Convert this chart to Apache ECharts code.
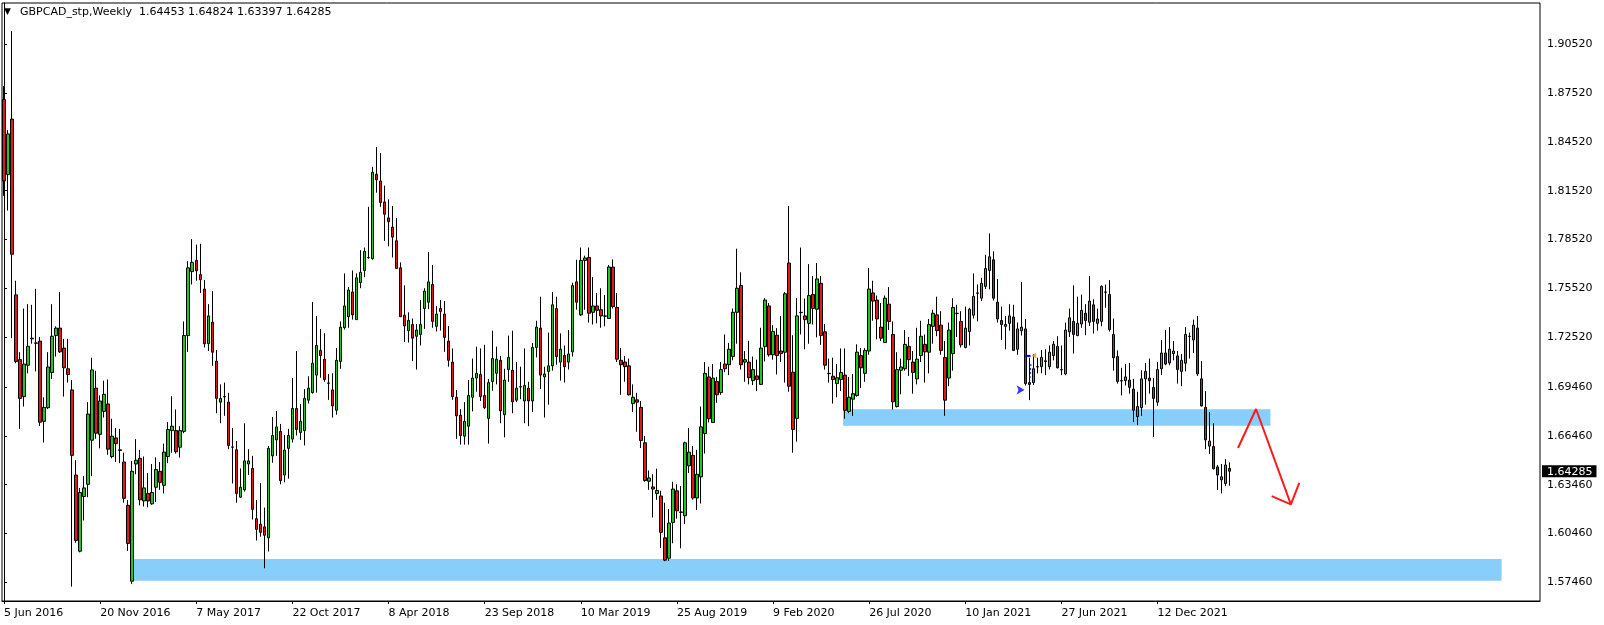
<!DOCTYPE html>
<html><head><meta charset="utf-8">
<script src="https://cdn.jsdelivr.net/npm/echarts@6/dist/echarts.min.js"></script>
<style>html,body{margin:0;padding:0;background:#fff}#c{width:1604px;height:625px}</style>
</head><body><div id="c"></div>
<script>
const symbolName = 'GBPCAD_stp,Weekly';
const startDate = '2016-06-05';
const totalSlots = 384;
const opens = [1.8712,1.8251,1.8592,1.7512,1.7114,1.6887,1.7080,1.7242,1.7217,1.7228,1.6735,1.6819,1.7035,1.7262,1.7308,1.7185,1.7058,1.6928,1.6405,1.5937,1.6273,1.6348,1.6619,1.6939,1.6655,1.6796,1.6842,1.6519,1.6633,1.6560,1.6485,1.6219,1.5753,1.6473,1.6508,1.6246,1.6292,1.6228,1.6330,1.6428,1.6342,1.6519,1.6678,1.6678,1.6576,1.6673,1.7262,1.7655,1.7724,1.7637,1.7548,1.7212,1.7344,1.7105,1.6853,1.6887,1.6853,1.6578,1.6560,1.6269,1.6314,1.6473,1.6446,1.6137,1.6103,1.6087,1.6019,1.6523,1.6621,1.6673,1.6405,1.6569,1.6626,1.6814,1.6667,1.6678,1.6865,1.6912,1.7019,1.7171,1.7117,1.6971,1.6928,1.6803,1.7103,1.7310,1.7378,1.7530,1.7360,1.7587,1.7662,1.7742,1.7735,1.8253,1.8212,1.8083,1.7985,1.7928,1.7844,1.7678,1.7387,1.7292,1.7330,1.7258,1.7269,1.7428,1.7467,1.7576,1.7319,1.7428,1.7394,1.7228,1.7099,1.6883,1.6773,1.6644,1.6705,1.6883,1.7001,1.7023,1.6894,1.6753,1.6980,1.7030,1.7110,1.6776,1.7053,1.7049,1.6865,1.6946,1.6860,1.6939,1.6860,1.7189,1.7308,1.7008,1.7042,1.7076,1.7428,1.7099,1.7139,1.7099,1.7162,1.7592,1.7389,1.7724,1.7742,1.7405,1.7444,1.7421,1.7383,1.7367,1.7683,1.7435,1.7110,1.7099,1.7076,1.6844,1.6867,1.6821,1.6603,1.6367,1.6332,1.6292,1.6276,1.6019,1.5894,1.6114,1.6308,1.6178,1.6155,1.6462,1.6526,1.6264,1.6394,1.6660,1.7008,1.6728,1.6980,1.6912,1.7087,1.7083,1.7133,1.7405,1.7569,1.7099,1.7099,1.6985,1.7014,1.6962,1.7194,1.7444,1.7144,1.7264,1.7167,1.7160,1.7708,1.7037,1.6753,1.7405,1.7383,1.7337,1.7514,1.7424,1.7583,1.7285,1.7030,1.7012,1.6967,1.6992,1.7019,1.6796,1.6871,1.6894,1.7139,1.7030,1.7167,1.7524,1.7480,1.7314,1.7219,1.7455,1.7269,1.6826,1.7049,1.7058,1.7196,1.7099,1.6996,1.7139,1.7208,1.7160,1.7319,1.7389,1.7326,1.7128,1.7001,1.7151,1.7399,1.7349,1.7189,1.7287,1.7387,1.7524,1.7492,1.7564,1.7662,1.7728,1.7467,1.7355,1.7319,1.7337,1.7376,1.7178,1.7292,1.7303,1.6973,1.6973,1.7071,1.7071,1.7103,1.7071,1.7139,1.7196,1.7053,1.7026,1.7285,1.7349,1.7262,1.7333,1.7399,1.7344,1.7451,1.7337,1.7349,1.7530,1.7514,1.7269,1.7133,1.6985,1.6985,1.6989,1.6933,1.6764,1.6819,1.6996,1.7001,1.6944,1.6853,1.7058,1.7155,1.7094,1.7151,1.7137,1.7042,1.7092,1.7258,1.7235,1.7308,1.6996,1.6821,1.6583,1.6580,1.6455,1.6376,1.6353,1.64453];
const highs = [1.8796,1.8524,1.9133,1.7599,1.7160,1.7428,1.7455,1.7451,1.7549,1.7253,1.6883,1.7160,1.7455,1.7319,1.7530,1.7242,1.7242,1.6989,1.6496,1.6326,1.6398,1.6853,1.7126,1.7046,1.6894,1.6985,1.6992,1.6751,1.6694,1.6689,1.6542,1.6251,1.6492,1.6626,1.6560,1.6519,1.6417,1.6473,1.6514,1.6485,1.6598,1.6730,1.6889,1.6808,1.6705,1.7349,1.7719,1.7855,1.7821,1.7826,1.7603,1.7455,1.7535,1.7173,1.6962,1.6973,1.6910,1.6694,1.6614,1.6446,1.6723,1.6564,1.6523,1.6251,1.6355,1.6205,1.6583,1.6762,1.6798,1.6719,1.6651,1.6689,1.7001,1.7167,1.6842,1.6933,1.7012,1.7469,1.7383,1.7303,1.7276,1.7026,1.7030,1.7185,1.7349,1.7644,1.7560,1.7662,1.7644,1.7787,1.7803,1.8053,1.8299,1.8421,1.8383,1.8183,1.8099,1.8058,1.7985,1.7712,1.7571,1.7405,1.7367,1.7333,1.7480,1.7553,1.7776,1.7696,1.7444,1.7480,1.7474,1.7321,1.7183,1.6928,1.6810,1.6853,1.6989,1.7121,1.7194,1.7183,1.7205,1.6996,1.7292,1.7194,1.7137,1.7058,1.7262,1.7292,1.7099,1.7071,1.7183,1.6978,1.7217,1.7353,1.7501,1.7071,1.7280,1.7530,1.7501,1.7276,1.7201,1.7296,1.7587,1.7728,1.7803,1.7753,1.7803,1.7621,1.7524,1.7553,1.7512,1.7696,1.7730,1.7524,1.7185,1.7137,1.7121,1.6962,1.6910,1.6860,1.6644,1.6433,1.6410,1.6444,1.6308,1.6235,1.6196,1.6364,1.6348,1.6337,1.6610,1.6694,1.6583,1.6560,1.6826,1.7099,1.7071,1.7087,1.7008,1.7099,1.7269,1.7217,1.7428,1.7796,1.7651,1.7167,1.7230,1.7133,1.7114,1.7310,1.7492,1.7462,1.7326,1.7308,1.7383,1.7530,1.8058,1.7264,1.7492,1.7803,1.7490,1.7701,1.7628,1.7708,1.7628,1.7333,1.7121,1.7126,1.7087,1.7183,1.7183,1.7008,1.7026,1.7208,1.7185,1.7185,1.7678,1.7599,1.7508,1.7462,1.7508,1.7560,1.7349,1.7160,1.7121,1.7296,1.7253,1.7167,1.7310,1.7353,1.7269,1.7364,1.7421,1.7501,1.7412,1.7228,1.7342,1.7492,1.7451,1.7412,1.7440,1.7433,1.7644,1.7576,1.7617,1.7758,1.7890,1.7780,1.7610,1.7440,1.7383,1.7455,1.7451,1.7342,1.7592,1.7364,1.7126,1.7149,1.7126,1.7173,1.7178,1.7201,1.7228,1.7258,1.7201,1.7342,1.7428,1.7571,1.7501,1.7514,1.7455,1.7628,1.7485,1.7428,1.7571,1.7576,1.7603,1.7367,1.7171,1.7064,1.7087,1.7094,1.6996,1.6917,1.7049,1.7094,1.7121,1.7001,1.7099,1.7235,1.7296,1.7314,1.7228,1.7167,1.7149,1.7314,1.7280,1.7360,1.7383,1.7105,1.6921,1.6792,1.6723,1.6467,1.6473,1.6503,1.64824];
const lows = [1.8121,1.8030,1.7246,1.7092,1.6689,1.6826,1.7030,1.7212,1.7042,1.6707,1.6605,1.6810,1.6996,1.7133,1.7155,1.6887,1.6973,1.5719,1.5989,1.5930,1.6126,1.6269,1.6398,1.6628,1.6569,1.6758,1.6530,1.6508,1.6485,1.6478,1.6235,1.5939,1.5735,1.6410,1.6219,1.6212,1.6207,1.6223,1.6239,1.6314,1.6292,1.6478,1.6542,1.6537,1.6512,1.6662,1.7162,1.7576,1.7599,1.7524,1.7189,1.7167,1.7076,1.6785,1.6723,1.6769,1.6564,1.6353,1.6235,1.6264,1.6303,1.6405,1.6132,1.6003,1.6026,1.5832,1.5935,1.6480,1.6523,1.6348,1.6360,1.6383,1.6605,1.6648,1.6621,1.6587,1.6844,1.6905,1.6912,1.7003,1.6978,1.6867,1.6758,1.6776,1.7058,1.7299,1.7310,1.7360,1.7360,1.7553,1.7621,1.7735,1.7728,1.8140,1.8053,1.7844,1.7810,1.7742,1.7671,1.7376,1.7223,1.7219,1.7105,1.7053,1.7201,1.7303,1.7424,1.7310,1.7287,1.7292,1.7162,1.7071,1.6867,1.6628,1.6592,1.6592,1.6592,1.6796,1.6917,1.6860,1.6810,1.6598,1.6923,1.6962,1.6723,1.6637,1.6978,1.6785,1.6853,1.6871,1.6723,1.6705,1.6792,1.7128,1.6933,1.6758,1.6837,1.7046,1.7083,1.6985,1.6973,1.7053,1.7133,1.7421,1.7383,1.7421,1.7342,1.7330,1.7337,1.7310,1.7319,1.7364,1.7428,1.7099,1.6898,1.6978,1.6894,1.6792,1.6671,1.6571,1.6364,1.6314,1.6144,1.6253,1.5957,1.5876,1.5878,1.5986,1.6137,1.5955,1.6105,1.6417,1.6253,1.6190,1.6230,1.6537,1.6728,1.6728,1.6849,1.6898,1.7037,1.7019,1.7110,1.7212,1.7053,1.6978,1.6962,1.6958,1.6921,1.6958,1.7103,1.7133,1.7114,1.7023,1.7099,1.6973,1.6917,1.6542,1.6610,1.7269,1.7178,1.7212,1.7330,1.7251,1.7205,1.7053,1.6973,1.6844,1.6883,1.6921,1.6751,1.6785,1.6769,1.6887,1.6939,1.6978,1.7144,1.7353,1.7239,1.7228,1.7217,1.7296,1.6808,1.6820,1.6901,1.7046,1.7014,1.6905,1.6962,1.7099,1.6973,1.7030,1.7212,1.7258,1.7144,1.6769,1.6951,1.7046,1.7253,1.7189,1.7183,1.7201,1.7367,1.7349,1.7474,1.7548,1.7546,1.7478,1.7342,1.7235,1.7178,1.7292,1.7167,1.7144,1.7262,1.6955,1.6865,1.6958,1.7030,1.7030,1.7019,1.7053,1.7110,1.7060,1.7019,1.7019,1.7253,1.7151,1.7258,1.7310,1.7264,1.7321,1.7274,1.7292,1.7319,1.7433,1.7287,1.7046,1.6967,1.6894,1.6955,1.6905,1.6730,1.6712,1.6769,1.6837,1.6905,1.6639,1.6830,1.7019,1.7080,1.7080,1.7110,1.6967,1.6951,1.7042,1.7121,1.7155,1.7014,1.6826,1.6564,1.6535,1.6439,1.6314,1.6292,1.6337,1.63397];
const closes = [1.8212,1.8501,1.7762,1.7103,1.6876,1.7087,1.7196,1.7246,1.7215,1.6730,1.6821,1.7069,1.7258,1.7308,1.7162,1.7064,1.7023,1.6526,1.6003,1.6298,1.6326,1.6780,1.7051,1.6662,1.6860,1.6901,1.6564,1.6644,1.6598,1.6556,1.6262,1.5985,1.6428,1.6496,1.6253,1.6326,1.6246,1.6298,1.6439,1.6360,1.6546,1.6685,1.6705,1.6548,1.6678,1.7262,1.7678,1.7712,1.7660,1.7605,1.7212,1.7383,1.7160,1.6876,1.6876,1.6885,1.6587,1.6576,1.6292,1.6330,1.6492,1.6492,1.6194,1.6071,1.6053,1.6035,1.6569,1.6648,1.6701,1.6371,1.6558,1.6648,1.6814,1.6685,1.6735,1.6876,1.6939,1.7092,1.7201,1.7139,1.6992,1.6969,1.6830,1.7110,1.7314,1.7444,1.7542,1.7389,1.7617,1.7651,1.7780,1.7740,1.8265,1.8219,1.8080,1.8008,1.7962,1.7867,1.7674,1.7378,1.7321,1.7355,1.7246,1.7296,1.7330,1.7535,1.7592,1.7349,1.7394,1.7410,1.7251,1.7110,1.6887,1.6769,1.6648,1.6735,1.6894,1.7001,1.7030,1.6887,1.6819,1.6973,1.7121,1.7117,1.6799,1.6989,1.7128,1.6855,1.6939,1.6948,1.6955,1.6860,1.7189,1.7314,1.7019,1.7026,1.7076,1.7451,1.7133,1.7178,1.7071,1.7149,1.7569,1.7467,1.7724,1.7739,1.7399,1.7444,1.7417,1.7383,1.7381,1.7683,1.7440,1.7117,1.7083,1.7071,1.6898,1.6883,1.6853,1.6617,1.6371,1.6387,1.6319,1.6310,1.6053,1.5882,1.6110,1.6319,1.6185,1.6176,1.6603,1.6546,1.6264,1.6410,1.6701,1.7030,1.6751,1.7001,1.6898,1.7053,1.7058,1.7178,1.7405,1.7553,1.7083,1.7114,1.7003,1.7053,1.6992,1.7185,1.7480,1.7144,1.7287,1.7139,1.7151,1.7519,1.6951,1.6685,1.7383,1.7403,1.7360,1.7508,1.7428,1.7610,1.7262,1.7080,1.7028,1.6992,1.7003,1.7035,1.6803,1.6883,1.6905,1.7160,1.7064,1.7171,1.7548,1.7474,1.7364,1.7246,1.7492,1.7349,1.6855,1.7053,1.7069,1.7208,1.7114,1.7035,1.7117,1.7258,1.7162,1.7330,1.7399,1.7292,1.7171,1.6865,1.7296,1.7435,1.7397,1.7205,1.7308,1.7424,1.7503,1.7522,1.7583,1.7674,1.7746,1.7492,1.7364,1.7330,1.7330,1.7383,1.7171,1.7303,1.7314,1.6967,1.6962,1.7058,1.7069,1.7128,1.7107,1.7160,1.7208,1.7064,1.7051,1.7296,1.7371,1.7269,1.7337,1.7417,1.7355,1.7474,1.7349,1.7364,1.7564,1.7528,1.7299,1.7126,1.6980,1.6983,1.7008,1.6944,1.6803,1.6826,1.6996,1.7042,1.6985,1.6876,1.7053,1.7155,1.7087,1.7178,1.7167,1.7053,1.7110,1.7269,1.7256,1.7326,1.7026,1.6830,1.6621,1.6614,1.6444,1.6405,1.6394,1.6467,1.64285];

const priceTicks = [1.90520,1.87520,1.84520,1.81520,1.78520,1.75520,1.72520,1.69460,1.66460,1.63460,1.60460,1.57460];
const yMin = 1.56311, yMax = 1.93055;

// horizontal zones (slot index / price)
const zoneLeft = [31.9, 209.5];
const zoneRight = [373.9, 316.2];
const zoneTop = [1.5889, 1.6810];
const zoneBottom = [1.5755, 1.6708];

// red forecast arrow (slot index / price)
const arrowX = [308.1, 312.6, 321.3];
const arrowY = [1.6571, 1.6811, 1.6225];
const headX = [316.5, 321.3, 323.4];
const headY = [1.6276, 1.6225, 1.6357];

// trade markers near slot 256
const tradeLineX = [255.0, 256.3];
const tradeLineY = [1.7137, 1.7137];
const tradeDashX = [256.4, 256.1];
const tradeDashY = [1.7087, 1.6985];
const tradeArrow = [254.8, 1.6928];
const tradeTri = [257.1, 1.7139];

const MONTHS = ['Jan','Feb','Mar','Apr','May','Jun','Jul','Aug','Sep','Oct','Nov','Dec'];
const categories = [];
const t0 = Date.parse(startDate + 'T00:00:00Z');
for (let i = 0; i < totalSlots; i++) {
  const d = new Date(t0 + i * 7 * 86400000);
  categories.push(d.getUTCDate() + ' ' + MONTHS[d.getUTCMonth()] + ' ' + d.getUTCFullYear());
}
const candles = opens.map((o, i) => [o, closes[i], lows[i], highs[i]]);
const n = opens.length;
const lastClose = closes[n - 1];
const headerText = symbolName + '  ' + [opens[n-1], highs[n-1], lows[n-1], closes[n-1]].map(v => v.toFixed(5)).join(' ');
const showTick = (idx) => idx % 24 === 0 && idx < n;
const FONT = 'DejaVu Sans';

const chart = echarts.init(document.getElementById('c'), null, {renderer: 'canvas'});
chart.setOption({
  animation: false,
  backgroundColor: '#ffffff',
  grid: {left: 2, right: 64, top: 3, bottom: 24, show: true, borderColor: '#000', borderWidth: 1, backgroundColor: '#fff'},
  graphic: [
    {type: 'text', left: 4, top: 7, style: {text: '\u25BC', font: '9px ' + FONT, fill: '#000'}},
    {type: 'text', left: 20, top: 7, style: {text: headerText, font: '11px ' + FONT, fill: '#000'}}
  ],
  xAxis: [
    {type: 'category', data: categories, boundaryGap: true,
      axisLine: {show: true, lineStyle: {color: '#000', width: 1}},
      axisTick: {show: true, interval: showTick, alignWithLabel: true, length: 3, lineStyle: {color: '#000'}},
      axisLabel: {show: true, interval: showTick, align: 'left', margin: 7, color: '#000', fontFamily: FONT, fontSize: 11},
      splitLine: {show: false}},
    {type: 'value', min: -0.5, max: totalSlots - 0.5, show: false}
  ],
  yAxis: [
    {type: 'value', position: 'right', min: yMin, max: yMax, scale: true,
      axisLine: {show: true, lineStyle: {color: '#000', width: 1}},
      axisTick: {show: true, length: 3, customValues: priceTicks, lineStyle: {color: '#000'}},
      axisLabel: {show: true, customValues: priceTicks.concat([lastClose]), margin: 2, color: '#000', fontFamily: FONT, fontSize: 11,
        formatter: v => (Math.abs(v - lastClose) < 1e-9 ? '{cur|' : '{n|') + v.toFixed(5) + '}',
        rich: {
          n: {color: '#000', fontFamily: FONT, fontSize: 11, padding: [0, 0, 0, 5]},
          cur: {color: '#fff', backgroundColor: '#000', fontFamily: FONT, fontSize: 11, padding: [1, 4, 0, 5]}
        }},
      splitLine: {show: false}}
  ],
  series: [
    {type: 'custom', xAxisIndex: 1, yAxisIndex: 0, z: 1, silent: true,
      data: zoneLeft.map((x, i) => [x, zoneRight[i], zoneTop[i], zoneBottom[i]]),
      renderItem: (params, api) => {
        const a = api.coord([api.value(0), api.value(2)]);
        const b = api.coord([api.value(1), api.value(3)]);
        return {type: 'rect', shape: {x: a[0], y: a[1], width: b[0] - a[0], height: b[1] - a[1]}, style: {fill: '#87cefa'}};
      }},
    {type: 'candlestick', xAxisIndex: 0, yAxisIndex: 0, z: 3, data: candles, barWidth: 3,
      itemStyle: {color: '#1ec81e', color0: '#e01818', borderColor: '#000', borderColor0: '#000', borderWidth: 1}},
    {type: 'line', xAxisIndex: 1, yAxisIndex: 0, z: 5, symbol: 'none', silent: true,
      data: arrowX.map((x, i) => [x, arrowY[i]]), lineStyle: {color: '#ff1a1a', width: 2}},
    {type: 'line', xAxisIndex: 1, yAxisIndex: 0, z: 5, symbol: 'none', silent: true,
      data: headX.map((x, i) => [x, headY[i]]), lineStyle: {color: '#ff1a1a', width: 2}},
    {type: 'line', xAxisIndex: 1, yAxisIndex: 0, z: 5, symbol: 'none', silent: true,
      data: tradeLineX.map((x, i) => [x, tradeLineY[i]]), lineStyle: {color: '#0000ff', width: 2}},
    {type: 'line', xAxisIndex: 1, yAxisIndex: 0, z: 5, symbol: 'none', silent: true,
      data: tradeDashX.map((x, i) => [x, tradeDashY[i]]), lineStyle: {color: '#0000ff', width: 1, type: [2, 2]}},
    {type: 'scatter', xAxisIndex: 1, yAxisIndex: 0, z: 6, silent: true, symbol: 'arrow', symbolRotate: -90, symbolSize: [7, 8],
      data: [tradeArrow], itemStyle: {color: '#0000ff'}},
    {type: 'scatter', xAxisIndex: 1, yAxisIndex: 0, z: 6, silent: true, symbol: 'triangle', symbolRotate: 90, symbolSize: [6, 5],
      data: [tradeTri], itemStyle: {color: '#e0a020'}}
  ]
});
</script></body></html>
